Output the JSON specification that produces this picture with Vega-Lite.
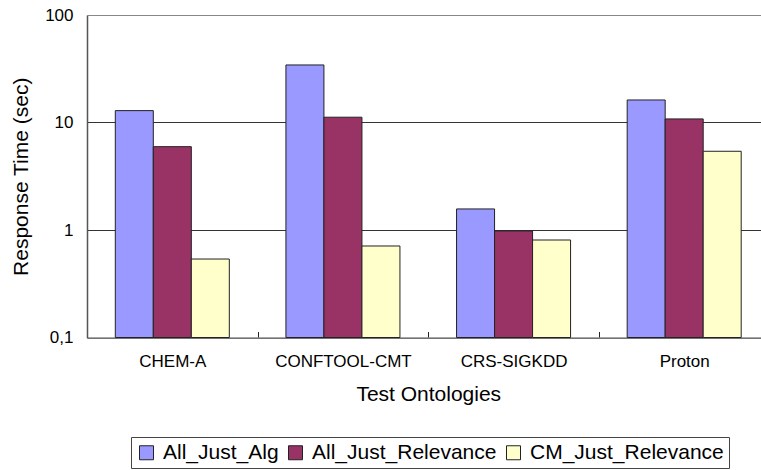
{
  "$schema": "https://vega.github.io/schema/vega-lite/v6.json",
  "width": 674,
  "height": 322.5,
  "autosize": {"type": "none"},
  "padding": {"left": 87, "top": 15, "right": 0, "bottom": 132.5},
  "background": "white",
  "data": {
    "values": [
      {"ontology": "CHEM-A", "method": "All_Just_Alg", "time": 12.9},
      {"ontology": "CHEM-A", "method": "All_Just_Relevance", "time": 5.96},
      {"ontology": "CHEM-A", "method": "CM_Just_Relevance", "time": 0.537},
      {"ontology": "CONFTOOL-CMT", "method": "All_Just_Alg", "time": 34.3},
      {"ontology": "CONFTOOL-CMT", "method": "All_Just_Relevance", "time": 11.2},
      {"ontology": "CONFTOOL-CMT", "method": "CM_Just_Relevance", "time": 0.71},
      {"ontology": "CRS-SIGKDD", "method": "All_Just_Alg", "time": 1.57},
      {"ontology": "CRS-SIGKDD", "method": "All_Just_Relevance", "time": 0.98},
      {"ontology": "CRS-SIGKDD", "method": "CM_Just_Relevance", "time": 0.807},
      {"ontology": "Proton", "method": "All_Just_Alg", "time": 16.2},
      {"ontology": "Proton", "method": "All_Just_Relevance", "time": 10.8},
      {"ontology": "Proton", "method": "CM_Just_Relevance", "time": 5.4}
    ]
  },
  "mark": {"type": "bar", "stroke": "#222222", "strokeWidth": 1},
  "encoding": {
    "x": {
      "field": "ontology",
      "type": "nominal",
      "sort": ["CHEM-A", "CONFTOOL-CMT", "CRS-SIGKDD", "Proton"],
      "scale": {"range": [0, 682.5], "paddingInner": 0, "paddingOuter": 0},
      "axis": {
        "title": "Test Ontologies",
        "titleFontSize": 21,
        "titleFontWeight": "normal",
        "titleColor": "black",
        "titlePadding": 14,
        "labelAngle": 0,
        "labelFontSize": 17,
        "labelColor": "black",
        "labelPadding": 22,
        "ticks": true,
        "tickBand": "extent",
        "tickSize": -6,
        "tickColor": "#222222",
        "domainColor": "#888888",
        "domainWidth": 1.5,
        "grid": false
      }
    },
    "xOffset": {
      "field": "method",
      "sort": ["All_Just_Alg", "All_Just_Relevance", "CM_Just_Relevance"],
      "scale": {"paddingInner": 0, "paddingOuter": 0.745}
    },
    "y": {
      "field": "time",
      "type": "quantitative",
      "scale": {"type": "log", "domain": [0.1, 100]},
      "axis": {
        "title": "Response Time (sec)",
        "titleFontSize": 21,
        "titleFontWeight": "normal",
        "titleColor": "black",
        "titlePadding": 13,
        "values": [0.1, 1, 10, 100],
        "labelExpr": "datum.value < 1 ? '0,1' : format(datum.value, 'd')",
        "labelFontSize": 17,
        "labelColor": "black",
        "labelPadding": 14,
        "ticks": false,
        "grid": true,
        "gridColor": {"condition": {"test": "datum.value == 100", "value": "#888888"}, "value": "#333333"},
        "gridWidth": 1,
        "domainColor": "#555555",
        "domainWidth": 1.5
      }
    },
    "y2": {"datum": 0.1},
    "color": {
      "field": "method",
      "type": "nominal",
      "scale": {
        "domain": ["All_Just_Alg", "All_Just_Relevance", "CM_Just_Relevance"],
        "range": ["#9999FF", "#993366", "#FFFFCC"]
      },
      "legend": {
        "title": null,
        "orient": "none",
        "legendX": 44,
        "legendY": 422,
        "direction": "horizontal",
        "columns": 3,
        "strokeColor": "#444444",
        "padding": 5,
        "symbolType": "square",
        "symbolSize": 196,
        "symbolStrokeColor": "#222222",
        "symbolStrokeWidth": 1,
        "labelFontSize": 21,
        "labelLimit": 400,
        "labelColor": "black",
        "labelOffset": 6,
        "columnPadding": 6
      }
    }
  },
  "config": {
    "view": {"stroke": null},
    "font": "Liberation Sans"
  }
}
